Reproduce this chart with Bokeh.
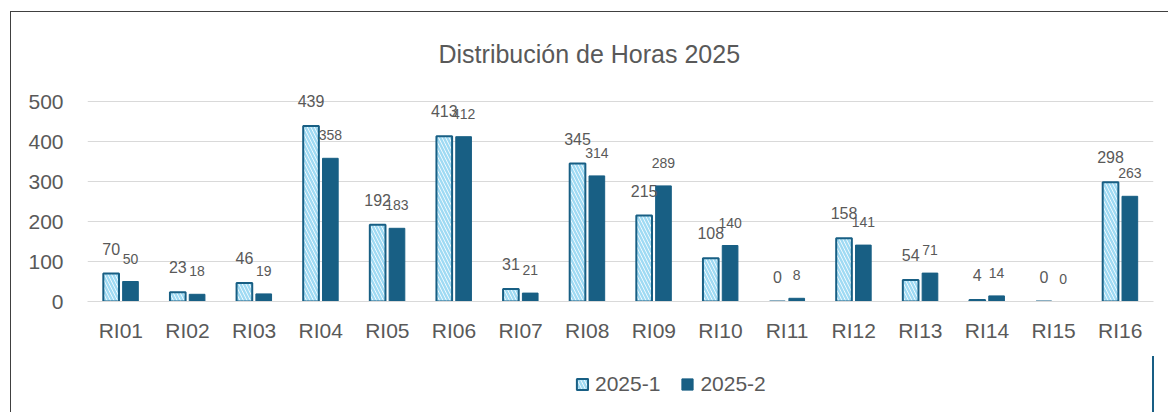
from bokeh.plotting import figure
from bokeh.layouts import column
from bokeh.models import ColumnDataSource, Legend, LegendItem, FixedTicker, Title
from bokeh.transform import dodge
from bokeh.core.properties import value
from bokeh.embed import file_html
from bokeh.resources import INLINE

categories = ["RI01", "RI02", "RI03", "RI04", "RI05", "RI06", "RI07", "RI08",
              "RI09", "RI10", "RI11", "RI12", "RI13", "RI14", "RI15", "RI16"]
serie_2025_1 = [70, 23, 46, 439, 192, 413, 31, 345, 215, 108, 0, 158, 54, 4, 0, 298]
serie_2025_2 = [50, 18, 19, 358, 183, 412, 21, 314, 289, 140, 8, 141, 71, 14, 0, 263]
series_names = ["2025-1", "2025-2"]
y_ticks = [0, 100, 200, 300, 400, 500]
title_text = "Distribución de Horas 2025"

DARK = "#185f84"
HATCH = "#9fdaf3"
TXT = "#595959"
GRID = "#d9d9d9"
FONT = "Liberation Sans"

src = ColumnDataSource(dict(
    cat=categories, v1=serie_2025_1, v2=serie_2025_2,
    t1=[str(v) for v in serie_2025_1], t2=[str(v) for v in serie_2025_2],
))

bar1_style = dict(fill_color="white", line_color=DARK, line_width=2,
                  hatch_pattern="left_diagonal_line", hatch_color=HATCH,
                  hatch_weight=2.4, hatch_scale=7)
bar2_style = dict(fill_color=DARK, line_color=DARK, line_width=1)

p = figure(x_range=categories, y_range=(0, 540), width=1157, height=340,
           output_backend="svg", toolbar_location=None,
           min_border_left=76, min_border_right=15, min_border_top=73, min_border_bottom=51)

p.title = Title(text=title_text, align="left", offset=351, standoff=35, text_font=FONT,
                text_font_size="25px", text_color=TXT, text_font_style="normal")

p.vbar(x=dodge("cat", -0.145, range=p.x_range), top="v1", width=0.235, source=src, **bar1_style)
p.vbar(x=dodge("cat", 0.145, range=p.x_range), top="v2", width=0.235, source=src, **bar2_style)

p.text(x=dodge("cat", -0.145, range=p.x_range), y="v1", text="t1", source=src,
       text_font=value(FONT), text_font_size="16px", text_color=TXT,
       text_align="center", text_baseline="middle", y_offset=-25)
p.text(x=dodge("cat", 0.145, range=p.x_range), y="v2", text="t2", source=src,
       text_font=value(FONT), text_font_size="14px", text_color=TXT,
       text_align="center", text_baseline="middle", y_offset=-23)

p.outline_line_color = None
p.xgrid.grid_line_color = None
p.ygrid.grid_line_color = GRID
p.ygrid.grid_line_width = 1
p.yaxis.ticker = FixedTicker(ticks=y_ticks)
p.yaxis.axis_line_color = None
p.yaxis.major_tick_line_color = None
p.yaxis.major_tick_out = 0
p.yaxis.minor_tick_line_color = None
p.yaxis.major_label_text_font = FONT
p.yaxis.major_label_text_font_size = "21px"
p.yaxis.major_label_text_color = TXT
p.yaxis.major_label_standoff = 24

p.xaxis.axis_line_color = GRID
p.xaxis.major_tick_line_color = None
p.xaxis.major_tick_out = 0
p.xaxis.minor_tick_line_color = None
p.xaxis.major_label_text_font = FONT
p.xaxis.major_label_text_font_size = "21px"
p.xaxis.major_label_text_color = TXT
p.xaxis.major_label_standoff = 17

# legend strip below the chart; its carrier bars lie far outside the visible x range
p2 = figure(x_range=(-1000, -999), y_range=(0, 1), width=1157, height=60,
            output_backend="svg", toolbar_location=None,
            x_axis_location=None, y_axis_location=None,
            min_border_left=0, min_border_right=0, min_border_top=4, min_border_bottom=0)
p2.outline_line_color = None
p2.xgrid.grid_line_color = None
p2.ygrid.grid_line_color = None
l1 = p2.vbar(x="v1", top="v2", width=0.2, source=src, **bar1_style)
l2 = p2.vbar(x="v2", top="v1", width=0.2, source=src, **bar2_style)
legend = Legend(items=[LegendItem(label=series_names[0], renderers=[l1]),
                       LegendItem(label=series_names[1], renderers=[l2])],
                orientation="horizontal", location="left",
                label_text_font=FONT, label_text_font_size="21px", label_text_color=TXT,
                glyph_width=14, glyph_height=14, spacing=20, label_standoff=6,
                border_line_color=None, background_fill_alpha=0, margin=488, padding=4)
p2.add_layout(legend, "center")

layout = column(p, p2, spacing=0, margin=(11, 0, 0, 10),
                styles={"border-left": "1px solid #404040", "border-top": "1px solid #404040"})

open("out.html", "w").write(file_html(layout, INLINE))
